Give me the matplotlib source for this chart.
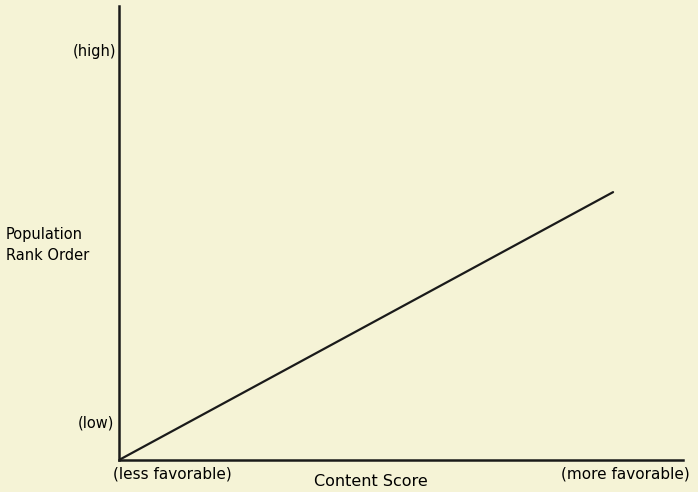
import numpy as np
import matplotlib
matplotlib.use('Agg')
import matplotlib.pyplot as plt

# data (relative units)
score = [0.0, 0.876]
rank = [0.0, 0.59]
y_labels = ['(low)', '(high)']
y_label_pos = [0.082, 0.899]
x_labels = ['(less favorable)', '(more favorable)']

bg = '#f5f3d6'
fig = plt.figure(figsize=(6.98, 4.92), dpi=100, facecolor=bg)
ax = fig.add_axes([119/698, 32/492, 564/698, 454/492])
ax.set_facecolor(bg)
ax.plot(score, rank, color='#1a1a1a', linewidth=1.6, solid_capstyle='round')
ax.set_xlim(0, 1)
ax.set_ylim(0, 1)
for s in ['top', 'right']:
    ax.spines[s].set_visible(False)
for s in ['left', 'bottom']:
    ax.spines[s].set_linewidth(1.8)
    ax.spines[s].set_color('#1a1a1a')
ax.set_xticks([])
ax.set_yticks([])

fs = 10.5
ax.text(-0.008, y_label_pos[0], y_labels[0], ha='right', va='center', fontsize=fs, transform=ax.transAxes)
ax.text(-0.005, y_label_pos[1], y_labels[1], ha='right', va='center', fontsize=fs, transform=ax.transAxes)
fig.text(6/698, 1 - 245/492, 'Population\nRank Order', ha='left', va='center', fontsize=fs, linespacing=1.5)
fig.text(113/698, 1 - 474/492, x_labels[0], ha='left', va='center', fontsize=11)
fig.text(690/698, 1 - 474/492, x_labels[1], ha='right', va='center', fontsize=11)
fig.text(371/698, 1 - 481/492, 'Content Score', ha='center', va='center', fontsize=11.5)

fig.savefig('out.png', dpi=100, facecolor=bg)
